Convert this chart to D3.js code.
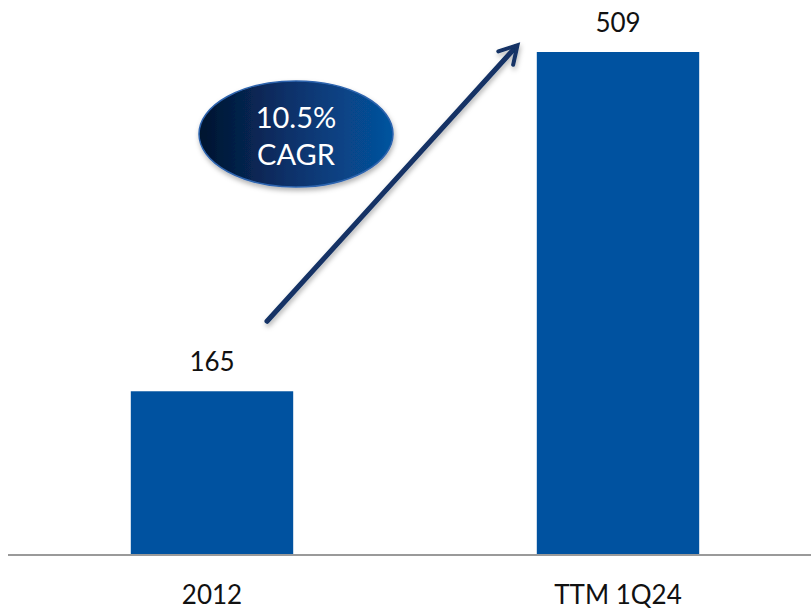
<!DOCTYPE html>
<html>
<head>
<meta charset="utf-8">
<script src="https://cdn.jsdelivr.net/npm/d3@7"></script>
<style>
  html, body { margin: 0; padding: 0; background: #ffffff; }
  svg { display: block; }
  text { font-family: Lato, "Open Sans", sans-serif; }
</style>
</head>
<body>
<svg id="chart" width="811" height="611"></svg>
<script>
// Revenue by period
const categories = ["2012", "TTM 1Q24"];
const values = [165, 509];
const cagrLines = ["10.5%", "CAGR"];

const width = 811, height = 611;
const baseline = 554;

const svg = d3.select("#chart");

const x = d3.scaleBand()
  .domain(categories)
  .range([9, 821])
  .paddingInner(0.6)
  .paddingOuter(0.3);

const y = d3.scaleLinear()
  .domain([0, 509])
  .range([baseline, 52]);

const defs = svg.append("defs");

const grad = defs.append("linearGradient")
  .attr("id", "ovalFill")
  .attr("x1", "0%").attr("y1", "0%")
  .attr("x2", "100%").attr("y2", "0%");
grad.append("stop").attr("offset", "0%").attr("stop-color", "#02142e");
grad.append("stop").attr("offset", "45%").attr("stop-color", "#0a3068");
grad.append("stop").attr("offset", "100%").attr("stop-color", "#05549f");

const shadow = defs.append("filter")
  .attr("id", "softShadow")
  .attr("x", "-20%").attr("y", "-20%")
  .attr("width", "140%").attr("height", "150%");
shadow.append("feDropShadow")
  .attr("dx", 1).attr("dy", 3)
  .attr("stdDeviation", 2.5)
  .attr("flood-color", "#000")
  .attr("flood-opacity", 0.3);

const marker = defs.append("marker")
  .attr("id", "arrowHead")
  .attr("viewBox", "0 0 10 10")
  .attr("refX", 7).attr("refY", 5)
  .attr("markerWidth", 5).attr("markerHeight", 5)
  .attr("markerUnits", "strokeWidth")
  .attr("orient", "auto");
marker.append("path")
  .attr("d", "M1,1 L8,5 L1,9")
  .attr("fill", "none")
  .attr("stroke", "#123265")
  .attr("stroke-width", 1.6)
  .attr("stroke-linecap", "round")
  .attr("stroke-linejoin", "miter");

// Bars
svg.selectAll("rect.bar")
  .data(values)
  .join("rect")
  .attr("class", "bar")
  .attr("x", (d, i) => x(categories[i]))
  .attr("width", x.bandwidth())
  .attr("y", d => y(d))
  .attr("height", d => baseline - y(d))
  .attr("fill", "#0052a0");

// Value labels
svg.selectAll("text.value")
  .data(values)
  .join("text")
  .attr("class", "value")
  .attr("x", (d, i) => x(categories[i]) + x.bandwidth() / 2)
  .attr("y", d => y(d) - 20)
  .attr("text-anchor", "middle")
  .attr("font-size", 26)
  .attr("fill", "#111")
  .text(d => d);

// Baseline
svg.append("line")
  .attr("x1", 8).attr("x2", width)
  .attr("y1", baseline + 1).attr("y2", baseline + 1)
  .attr("stroke", "#9a9a9a")
  .attr("stroke-width", 2);

// Category labels
svg.selectAll("text.cat")
  .data(categories)
  .join("text")
  .attr("class", "cat")
  .attr("x", d => x(d) + x.bandwidth() / 2)
  .attr("y", 604)
  .attr("text-anchor", "middle")
  .attr("font-size", 26)
  .attr("fill", "#111")
  .text(d => d);

// Growth arrow
const x0 = x(categories[0]) + x.bandwidth() / 2;
const x1 = x(categories[1]);
svg.append("line")
  .attr("x1", x0 + 55).attr("y1", y(values[0]) - 70)
  .attr("x2", x1 - 21).attr("y2", y(values[1]) - 5)
  .attr("stroke", "#123265")
  .attr("stroke-width", 5)
  .attr("stroke-linecap", "round")
  .attr("marker-end", "url(#arrowHead)")
  .attr("filter", "url(#softShadow)");

// CAGR oval
const oval = svg.append("g").attr("transform", "translate(296,134)");
oval.append("ellipse")
  .attr("rx", 97).attr("ry", 53)
  .attr("fill", "url(#ovalFill)")
  .attr("stroke", "#2d64ae")
  .attr("stroke-width", 1.5)
  .attr("filter", "url(#softShadow)");
oval.selectAll("text")
  .data(cagrLines)
  .join("text")
  .attr("x", 0)
  .attr("y", (d, i) => i === 0 ? -6 : 31)
  .attr("text-anchor", "middle")
  .attr("font-size", 29)
  .attr("fill", "#ffffff")
  .text(d => d);
</script>
</body>
</html>
